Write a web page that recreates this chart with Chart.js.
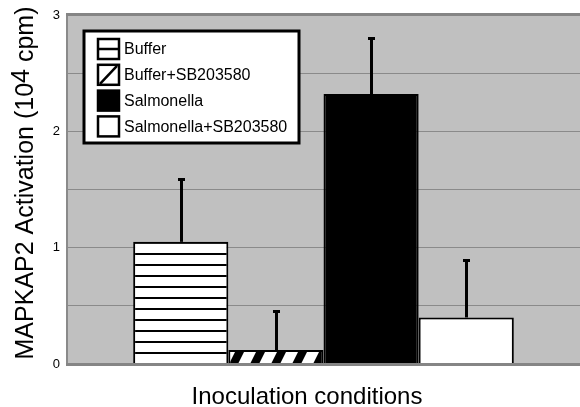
<!DOCTYPE html>
<html>
<head>
<meta charset="utf-8">
<script src="https://cdn.jsdelivr.net/npm/chart.js@4/dist/chart.umd.min.js"></script>
<style>
  html, body { margin: 0; padding: 0; background: #fff; }
  #wrap { width: 580px; height: 407px; position: relative; }
</style>
</head>
<body>
<div id="wrap"><canvas id="myChart" width="580" height="407"></canvas></div>
<script>
var categories = ["Inoculation conditions"];
var seriesNames = ["Buffer", "Buffer+SB203580", "Salmonella", "Salmonella+SB203580"];
var seriesValues = [1.05, 0.12, 2.32, 0.40];
var errorValues = [0.55, 0.34, 0.49, 0.50];
var yTicks = [0, 1, 2, 3];
var yTitleParts = ["MAPKAP2 Activation (10", "4", " cpm)"];
var FONT = '"Liberation Sans", Arial, sans-serif';

function makePattern(kind) {
    var c = document.createElement('canvas');
    var ctx = c.getContext('2d');
    if (kind === 'hstripe') {
        c.width = 8; c.height = 11;
        ctx.fillStyle = '#fff';
        ctx.fillRect(0, 0, 8, 11);
        ctx.fillStyle = '#000';
        ctx.fillRect(0, 0, 8, 2);
    } else {
        c.width = 21; c.height = 42;
        ctx.fillStyle = '#000';
        ctx.fillRect(0, 0, 21, 42);
        ctx.fillStyle = '#fff';
        for (var k = -2; k <= 2; k++) {
            var ox = k * 21;
            ctx.beginPath();
            ctx.moveTo(ox, 42);
            ctx.lineTo(ox + 21, 0);
            ctx.lineTo(ox + 33, 0);
            ctx.lineTo(ox + 12, 42);
            ctx.closePath();
            ctx.fill();
        }
    }
    return document.getElementById('myChart').getContext('2d').createPattern(c, 'repeat');
}

var fills = [makePattern('hstripe'), makePattern('diag'), '#000', '#fff'];

var datasets = seriesNames.map(function(name, i) {
    return {
        label: name,
        data: [seriesValues[i]],
        backgroundColor: fills[i],
        borderColor: '#000',
        borderWidth: 2,
        borderSkipped: 'bottom'
    };
});

var plotBg = {
    id: 'plotBg',
    beforeDraw: function(chart) {
        var a = chart.chartArea, ctx = chart.ctx;
        ctx.save();
        ctx.fillStyle = '#c0c0c0';
        ctx.fillRect(a.left, a.top, a.right - a.left, a.bottom - a.top);
        ctx.restore();
    },
    afterDraw: function(chart) {
        var a = chart.chartArea, ctx = chart.ctx;
        ctx.save();
        ctx.fillStyle = '#858585';
        ctx.fillRect(a.left - 1, a.top - 2, a.right - a.left + 1, 3);
        ctx.fillRect(a.left - 1, a.bottom - 1, a.right - a.left + 1, 3);
        // axis titles
        ctx.fillStyle = '#000';
        ctx.textBaseline = 'alphabetic';
        ctx.font = '24px ' + FONT;
        ctx.textAlign = 'center';
        ctx.fillText(categories[0], 307, 404);
        ctx.font = '25px ' + FONT;
        ctx.textAlign = 'left';
        var w0 = ctx.measureText(yTitleParts[0]).width;
        var w1 = ctx.measureText(yTitleParts[1]).width;
        var w2 = ctx.measureText(yTitleParts[2]).width;
        var total = w0 + w1 + w2;
        ctx.translate(33, 183);
        ctx.rotate(-Math.PI / 2);
        var sx = -total / 2;
        ctx.fillText(yTitleParts[0], sx, 0);
        ctx.fillText(yTitleParts[1], sx + w0, -4);
        ctx.fillText(yTitleParts[2], sx + w0 + w1, 0);
        ctx.restore();
    }
};

var errorBars = {
    id: 'errorBars',
    afterDatasetsDraw: function(chart) {
        var ctx = chart.ctx, y = chart.scales.y;
        ctx.save();
        ctx.fillStyle = '#000';
        chart.data.datasets.forEach(function(ds, i) {
            var bar = chart.getDatasetMeta(i).data[0];
            var top = Math.round(y.getPixelForValue(seriesValues[i] + errorValues[i]));
            var base = y.getPixelForValue(seriesValues[i]);
            var x = Math.round(bar.x);
            ctx.fillRect(x - 1, top, 3, base - top);
            ctx.fillRect(x - 3, top, 7, 3);
        });
        ctx.restore();
    }
};

var boxLegend = {
    id: 'boxLegend',
    afterDatasetsDraw: function(chart) {
        var a = chart.chartArea, ctx = chart.ctx;
        var x0 = a.left + 17, y0 = a.top + 16, w = 215, h = 112;
        ctx.save();
        ctx.fillStyle = '#fff';
        ctx.fillRect(x0, y0, w, h);
        ctx.strokeStyle = '#000';
        ctx.lineWidth = 3;
        ctx.strokeRect(x0, y0, w, h);
        ctx.font = '16px ' + FONT;
        ctx.textBaseline = 'middle';
        seriesNames.forEach(function(name, i) {
            var cy = y0 + 18 + i * 25.8;
            var s = 20, sw = 21, sx = x0 + 14, sy = cy - 10;
            ctx.fillStyle = i === 2 ? '#000' : '#fff';
            ctx.fillRect(sx, sy, sw, s);
            ctx.lineWidth = 2.5;
            ctx.strokeStyle = '#000';
            ctx.beginPath();
            if (i === 0) { ctx.moveTo(sx, cy); ctx.lineTo(sx + sw, cy); }
            if (i === 1) { ctx.moveTo(sx + 2, sy + s - 1); ctx.lineTo(sx + sw - 2, sy + 1); }
            ctx.stroke();
            ctx.strokeRect(sx, sy, sw, s);
            ctx.fillStyle = '#000';
            ctx.fillText(name, sx + sw + 5, cy + 1);
        });
        ctx.restore();
    }
};

var ctx = document.getElementById('myChart').getContext('2d');
var myChart = new Chart(ctx, {
    type: 'bar',
    data: { labels: categories, datasets: datasets },
    plugins: [plotBg, errorBars, boxLegend],
    options: {
        responsive: false,
        animation: false,
        layout: { padding: { top: 15, right: 0, left: 0, bottom: 0 } },
        categoryPercentage: 0.742,
        barPercentage: 1,
        plugins: {
            legend: { display: false },
            tooltip: { enabled: false }
        },
        scales: {
            x: {
                grid: { display: false },
                border: { display: false },
                ticks: { display: false },
                afterFit: function(s) { s.height = 43; }
            },
            y: {
                min: 0,
                max: 3,
                ticks: {
                    stepSize: 0.5,
                    color: '#000',
                    padding: 7,
                    font: { family: FONT, size: 13 },
                    callback: function(v) { return yTicks.indexOf(v) >= 0 ? String(v) : ''; }
                },
                grid: { color: '#8a8a8a', lineWidth: 1, drawTicks: false },
                border: { color: '#8a8a8a', width: 2 },
                afterFit: function(s) { s.width = 67; }
            }
        }
    }
});
</script>
</body>
</html>
